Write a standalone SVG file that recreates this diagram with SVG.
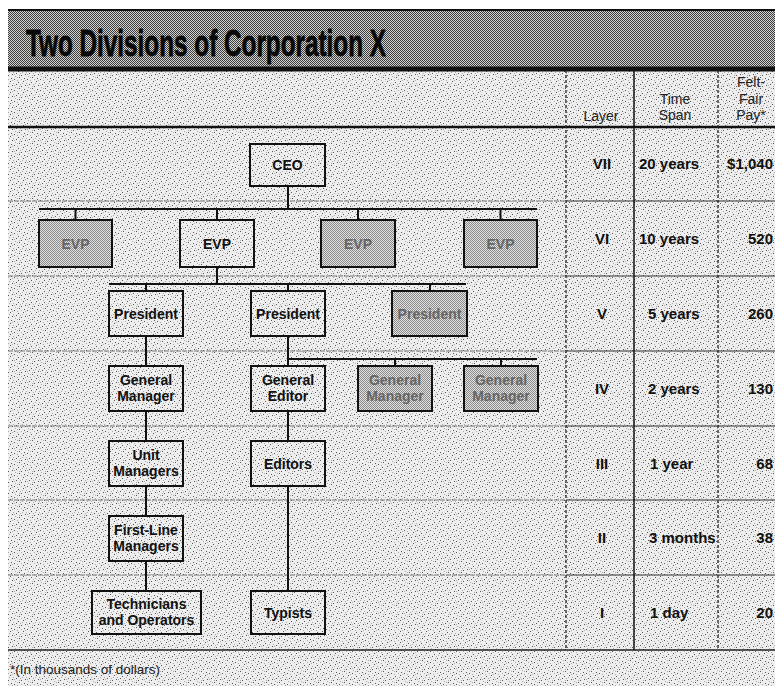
<svg xmlns="http://www.w3.org/2000/svg" width="775" height="686" viewBox="0 0 775 686">
<defs>
<pattern id="stip" width="13" height="11" patternUnits="userSpaceOnUse">
<rect width="13" height="11" fill="#eeeeee"/>
<g fill="#555"><rect x="1" y="2" width="1" height="1"/><rect x="6" y="0" width="1" height="1"/><rect x="10" y="4" width="1" height="1"/><rect x="3" y="7" width="1" height="1"/><rect x="8" y="9" width="1" height="1"/><rect x="12" y="8" width="1" height="1"/><rect x="5" y="5" width="1" height="1"/><rect x="11" y="1" width="1" height="1"/></g>
<g fill="#aaa"><rect x="4" y="3" width="1" height="1"/><rect x="0" y="6" width="1" height="1"/><rect x="8" y="2" width="1" height="1"/><rect x="2" y="10" width="1" height="1"/><rect x="9" y="6" width="1" height="1"/><rect x="6" y="9" width="1" height="1"/><rect x="12" y="3" width="1" height="1"/><rect x="7" y="7" width="1" height="1"/><rect x="1" y="8" width="1" height="1"/><rect x="4" y="0" width="1" height="1"/></g>
</pattern>
<pattern id="checkDark" width="2" height="2" patternUnits="userSpaceOnUse">
<rect width="2" height="2" fill="#d4d4d4"/>
<rect x="0" y="0" width="1" height="1" fill="#3a3a3a"/><rect x="1" y="1" width="1" height="1" fill="#3a3a3a"/>
</pattern>
<pattern id="checkGray" width="2" height="2" patternUnits="userSpaceOnUse">
<rect width="2" height="2" fill="#e2e2e2"/>
<rect x="0" y="0" width="1" height="1" fill="#8a8a8a"/><rect x="1" y="1" width="1" height="1" fill="#8a8a8a"/>
</pattern>
</defs>
<style>
.box{fill:url(#stip);stroke:#111;stroke-width:2}
.gbox{fill:url(#checkGray);stroke:#111;stroke-width:2}
.lbl{font-family:"Liberation Sans",Arial,sans-serif;font-weight:bold;font-size:14px;fill:#111;text-anchor:middle}
.glbl{font-family:"Liberation Sans",Arial,sans-serif;font-weight:bold;font-size:14px;fill:#666;text-anchor:middle}
.hdr{font-family:"Liberation Sans",Arial,sans-serif;font-size:14px;fill:#222;text-anchor:middle}
.val{font-family:"Liberation Sans",Arial,sans-serif;font-weight:bold;font-size:15px;fill:#111}
.sep{stroke:#777;stroke-width:1;stroke-dasharray:5 1}
.tsep{stroke:#333;stroke-width:1.2}
.con{stroke:#111;stroke-width:2;fill:none}
</style>
<rect width="775" height="686" fill="#fff"/>
<rect x="8" y="70" width="767" height="616" fill="url(#stip)"/>
<g id="title">
<rect x="8" y="10" width="767" height="58" fill="url(#checkDark)"/>
<line x1="8" y1="10" x2="775" y2="10" stroke="#111" stroke-width="2"/>
<line x1="8" y1="69" x2="775" y2="69" stroke="#111" stroke-width="5"/>
<text x="26" y="56" font-family="'Liberation Sans',Arial,sans-serif" font-weight="bold" font-size="37" fill="#0a0a0a" stroke="#0a0a0a" stroke-width="0.8" textLength="360" lengthAdjust="spacingAndGlyphs">Two Divisions of Corporation X</text>
</g>
<g id="grid">
<line x1="8" y1="127" x2="775" y2="127" stroke="#111" stroke-width="2.5"/>
<line class="sep" x1="8" y1="201" x2="566" y2="201"/>
<line class="sep" x1="8" y1="276" x2="566" y2="276"/>
<line class="sep" x1="8" y1="351" x2="566" y2="351"/>
<line class="sep" x1="8" y1="426" x2="566" y2="426"/>
<line class="sep" x1="8" y1="500" x2="566" y2="500"/>
<line class="sep" x1="8" y1="575" x2="566" y2="575"/>
<line class="tsep" x1="566" y1="201" x2="775" y2="201"/>
<line class="tsep" x1="566" y1="276" x2="775" y2="276"/>
<line class="tsep" x1="566" y1="351" x2="775" y2="351"/>
<line class="tsep" x1="566" y1="426" x2="775" y2="426"/>
<line class="tsep" x1="566" y1="500" x2="775" y2="500"/>
<line class="tsep" x1="566" y1="575" x2="775" y2="575"/>
<line x1="8" y1="650" x2="775" y2="650" stroke="#222" stroke-width="1.5"/>
<line x1="566" y1="70" x2="566" y2="650" stroke="#222" stroke-width="1.3" stroke-dasharray="3 2"/>
<line x1="634" y1="70" x2="634" y2="650" stroke="#111" stroke-width="1.5"/>
<line x1="718" y1="70" x2="718" y2="650" stroke="#222" stroke-width="1.3" stroke-dasharray="3 2"/>
</g>
<g id="header">
<text class="hdr" x="601" y="121">Layer</text>
<text class="hdr" x="675" y="104">Time</text>
<text class="hdr" x="675" y="120">Span</text>
<text class="hdr" x="751" y="87">Felt-</text>
<text class="hdr" x="751" y="104">Fair</text>
<text class="hdr" x="751" y="120">Pay*</text>
</g>
<g id="layers">
<text class="val" x="602" y="169" text-anchor="middle">VII</text>
<text class="val" x="602" y="244" text-anchor="middle">VI</text>
<text class="val" x="602" y="319" text-anchor="middle">V</text>
<text class="val" x="602" y="394" text-anchor="middle">IV</text>
<text class="val" x="602" y="469" text-anchor="middle">III</text>
<text class="val" x="602" y="543" text-anchor="middle">II</text>
<text class="val" x="602" y="618" text-anchor="middle">I</text>
</g>
<g id="timespans">
<text class="val" x="639" y="169">20 years</text>
<text class="val" x="639" y="244">10 years</text>
<text class="val" x="648" y="319">5 years</text>
<text class="val" x="648" y="394">2 years</text>
<text class="val" x="650" y="469">1 year</text>
<text class="val" x="649" y="543">3 months</text>
<text class="val" x="650" y="618">1 day</text>
</g>
<g id="pay">
<text class="val" x="773" y="169" text-anchor="end">$1,040</text>
<text class="val" x="773" y="244" text-anchor="end">520</text>
<text class="val" x="773" y="319" text-anchor="end">260</text>
<text class="val" x="773" y="394" text-anchor="end">130</text>
<text class="val" x="773" y="469" text-anchor="end">68</text>
<text class="val" x="773" y="543" text-anchor="end">38</text>
<text class="val" x="773" y="618" text-anchor="end">20</text>
</g>
<g id="connectors">
<path class="con" d="M288 186V209M39 209H537M75.5 209V220M217 209V220M358 209V220M500.5 209V220"/>
<path class="con" d="M217 267V284M109 284H466M146 284V291M288 284V291M430 284V291"/>
<path class="con" d="M146 336V366M146 411V441M146 486V516M146 561V591"/>
<path class="con" d="M288 336V366M288 359H537M395 359V366M501 359V366M288 411V441M288 486V591"/>
</g>
<g id="ceo"><rect class="box" x="250" y="144" width="75" height="42"/><text class="lbl" x="287.5" y="170">CEO</text></g>
<g id="evp1"><rect class="gbox" x="39" y="220" width="73" height="47"/><text class="glbl" x="75.5" y="249">EVP</text></g>
<g id="evp2"><rect class="box" x="180" y="220" width="74" height="47"/><text class="lbl" x="217" y="249">EVP</text></g>
<g id="evp3"><rect class="gbox" x="321" y="220" width="74" height="47"/><text class="glbl" x="358" y="249">EVP</text></g>
<g id="evp4"><rect class="gbox" x="464" y="220" width="73" height="47"/><text class="glbl" x="500.5" y="249">EVP</text></g>
<g id="president1"><rect class="box" x="109" y="291" width="74" height="45"/><text class="lbl" x="146" y="319">President</text></g>
<g id="president2"><rect class="box" x="251" y="291" width="74" height="45"/><text class="lbl" x="288" y="319">President</text></g>
<g id="president3"><rect class="gbox" x="392" y="291" width="75" height="45"/><text class="glbl" x="429.5" y="319">President</text></g>
<g id="gm1"><rect class="box" x="109" y="366" width="74" height="45"/><text class="lbl" x="146" y="385">General</text><text class="lbl" x="146" y="401">Manager</text></g>
<g id="ge"><rect class="box" x="251" y="366" width="74" height="45"/><text class="lbl" x="288" y="385">General</text><text class="lbl" x="288" y="401">Editor</text></g>
<g id="gm2"><rect class="gbox" x="358" y="366" width="74" height="45"/><text class="glbl" x="395" y="385">General</text><text class="glbl" x="395" y="401">Manager</text></g>
<g id="gm3"><rect class="gbox" x="464" y="366" width="74" height="45"/><text class="glbl" x="501" y="385">General</text><text class="glbl" x="501" y="401">Manager</text></g>
<g id="unitmanagers"><rect class="box" x="109" y="441" width="74" height="45"/><text class="lbl" x="146" y="460">Unit</text><text class="lbl" x="146" y="476">Managers</text></g>
<g id="editors"><rect class="box" x="251" y="441" width="74" height="45"/><text class="lbl" x="288" y="469">Editors</text></g>
<g id="firstline"><rect class="box" x="109" y="516" width="74" height="45"/><text class="lbl" x="146" y="535">First-Line</text><text class="lbl" x="146" y="551">Managers</text></g>
<g id="technicians"><rect class="box" x="92" y="591" width="109" height="43"/><text class="lbl" x="146.5" y="609">Technicians</text><text class="lbl" x="146.5" y="625">and Operators</text></g>
<g id="typists"><rect class="box" x="251" y="591" width="74" height="43"/><text class="lbl" x="288" y="618">Typists</text></g>
<text x="10" y="674" font-family="'Liberation Sans',Arial,sans-serif" font-size="13.5" fill="#222">*(In thousands of dollars)</text>
</svg>
